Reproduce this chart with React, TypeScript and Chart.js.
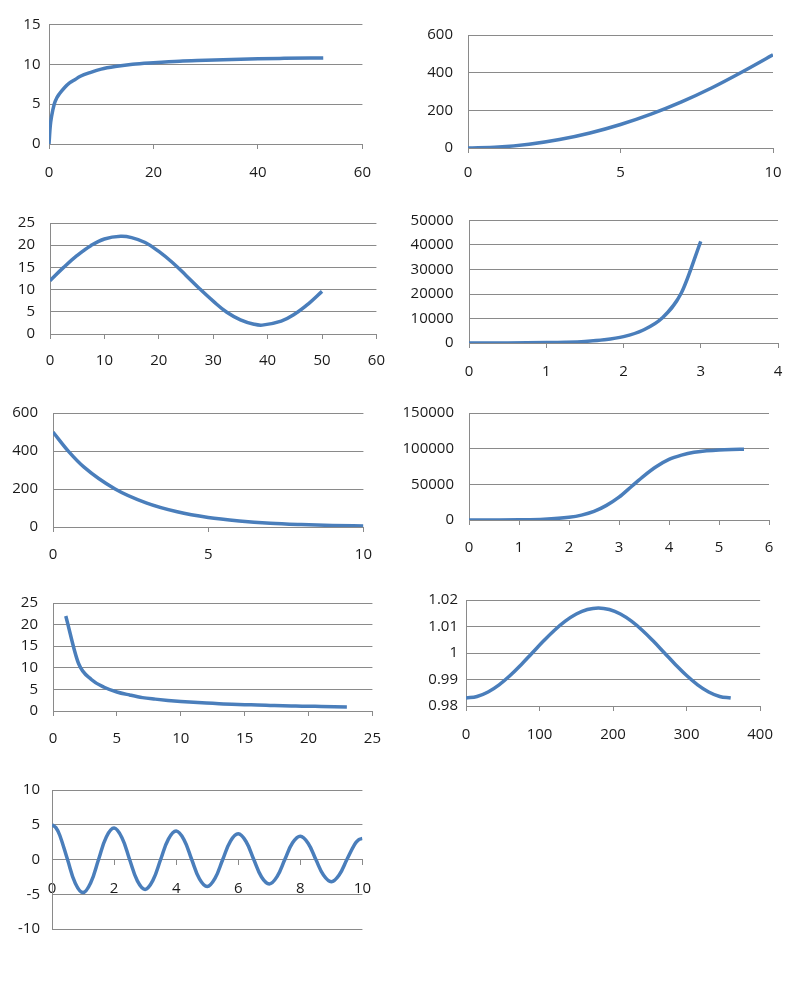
import React, { useEffect, useRef } from "react";
import { Chart, registerables } from "chart.js";

Chart.register(...registerables);

const FONT = "'Open Sans', 'Noto Sans', sans-serif";
const LINE_COLOR = "#4a7ebb";
const GRID_COLOR = "#8a8a8a";
const TEXT_COLOR = "#1a1a1a";

// 1: saturating curve
const c1X = [0, 0.25, 0.5, 1, 1.5, 2, 3, 4, 5, 6, 8, 10, 13, 16, 20, 25, 30, 35, 40, 45, 52.5];
const c1Y = [0, 2.3, 3.5, 5.0, 5.8, 6.3, 7.1, 7.7, 8.1, 8.5, 9.0, 9.4, 9.75, 10.0, 10.2, 10.4, 10.5, 10.6, 10.7, 10.75, 10.8];
const c1XTicks = ["0", "20", "40", "60"];
const c1YTicks = ["0", "5", "10", "15"];

// 2: parabola
const c2X = [0, 1, 2, 3, 4, 5, 6, 7, 8, 9, 10];
const c2Y = [0, 5, 20, 45, 80, 125, 180, 245, 320, 405, 495];
const c2XTicks = ["0", "5", "10"];
const c2YTicks = ["0", "200", "400", "600"];

// 3: sine wave
const c3X = [0, 2.5, 5, 7.5, 10, 13, 15, 17.5, 20, 22.5, 25, 27.5, 30, 32.5, 35, 37.5, 39, 42.5, 45, 47.5, 50];
const c3Y = [12, 15, 17.7, 19.9, 21.4, 22, 21.7, 20.6, 18.6, 16.1, 13.2, 10.2, 7.4, 4.9, 3.2, 2.2, 2, 2.9, 4.5, 6.8, 9.6];
const c3XTicks = ["0", "10", "20", "30", "40", "50", "60"];
const c3YTicks = ["0", "5", "10", "15", "20", "25"];

// 4: exponential growth
const c4X = [0, 0.25, 0.5, 0.75, 1, 1.25, 1.5, 1.75, 2, 2.25, 2.5, 2.75, 3];
const c4Y = [10, 20, 40, 80, 160, 320, 640, 1300, 2600, 5200, 10200, 20500, 41500];
const c4XTicks = ["0", "1", "2", "3", "4"];
const c4YTicks = ["0", "10000", "20000", "30000", "40000", "50000"];

// 5: exponential decay
const c5X = [0, 0.5, 1, 2, 3, 4, 5, 6, 7, 8, 9, 10];
const c5Y = [500, 398, 315, 200, 127, 80, 50, 32, 20, 13, 8, 5];
const c5XTicks = ["0", "5", "10"];
const c5YTicks = ["0", "200", "400", "600"];

// 6: logistic
const c6X = [0, 0.5, 1, 1.5, 2, 2.25, 2.5, 2.75, 3, 3.25, 3.5, 3.75, 4, 4.25, 4.5, 4.75, 5, 5.25, 5.5];
const c6Y = [30, 100, 330, 1100, 3800, 6800, 12000, 20500, 32000, 47000, 62000, 75000, 85000, 91000, 95000, 97000, 98300, 99000, 99300];
const c6XTicks = ["0", "1", "2", "3", "4", "5", "6"];
const c6YTicks = ["0", "50000", "100000", "150000"];

// 7: reciprocal
const c7X = [1, 2, 3, 4, 5, 6, 7, 8, 9, 10, 11, 12, 13, 14, 15, 16, 17, 18, 19, 20, 21, 22, 23];
const c7Y = [22, 11, 7.3, 5.5, 4.4, 3.7, 3.1, 2.75, 2.45, 2.2, 2.0, 1.85, 1.7, 1.55, 1.45, 1.4, 1.3, 1.2, 1.15, 1.1, 1.05, 1.0, 0.95];
const c7XTicks = ["0", "5", "10", "15", "20", "25"];
const c7YTicks = ["0", "5", "10", "15", "20", "25"];

// 8: one cosine period
const c8X = [0, 15, 30, 45, 60, 75, 90, 105, 120, 135, 150, 165, 180, 195, 210, 225, 240, 255, 270, 285, 300, 315, 330, 345, 360];
const c8Y = [
  0.983, 0.9836, 0.9853, 0.988, 0.9915, 0.9956, 1.0, 1.0044, 1.0085, 1.012, 1.0147, 1.0164, 1.017,
  1.0164, 1.0147, 1.012, 1.0085, 1.0044, 1.0, 0.9956, 0.9915, 0.988, 0.9853, 0.9836, 0.983,
];
const c8XTicks = ["0", "100", "200", "300", "400"];
const c8YTicks = ["0.98", "0.99", "1", "1.01", "1.02"];

// 9: damped oscillation
const c9X = [
  0, 0.125, 0.25, 0.5, 0.75, 1, 1.25, 1.5, 1.75, 2, 2.25, 2.5, 2.75, 3, 3.25, 3.5, 3.75, 4, 4.25, 4.5, 4.75, 5,
  5.25, 5.5, 5.75, 6, 6.25, 6.5, 6.75, 7, 7.25, 7.5, 7.75, 8, 8.25, 8.5, 8.75, 9, 9.25, 9.5, 9.75, 9.875, 10,
];
const c9Y = [
  5, 4.59, 3.49, 0, -3.41, -4.76, -3.32, 0, 3.24, 4.52, 3.16, 0, -3.08, -4.3, -3.01, 0, 2.93, 4.09, 2.86, 0, -2.79, -3.89,
  -2.72, 0, 2.65, 3.7, 2.59, 0, -2.52, -3.52, -2.46, 0, 2.4, 3.35, 2.34, 0, -2.28, -3.19, -2.23, 0, 2.17, 2.82, 3.03,
];
const c9XTicks = ["0", "2", "4", "6", "8", "10"];
const c9YTicks = ["-10", "-5", "0", "5", "10"];

interface PanelProps {
  xs: number[];
  ys: number[];
  xTicks: string[];
  yTicks: string[];
  xRange: [number, number, number];
  yRange: [number, number, number];
  plot: [number, number, number, number]; // left, top, right, bottom on the page
  canvasLeft: number;
  yPad: number;
  xPad: number;
  smooth?: boolean; // plain bezier instead of monotone
  zeroAxis?: boolean;
}

const PAD_TOP = 14;
const PAD_RIGHT = 20;
const X_H = 45;
const PAD_BOTTOM_ZERO = 14;

function Panel({ xs, ys, xTicks, yTicks, xRange, yRange, plot, canvasLeft, yPad, xPad, smooth, zeroAxis }: PanelProps) {
  const canvasRef = useRef<HTMLCanvasElement>(null);
  const [left, top, right, bottom] = plot;
  const yW = left - canvasLeft;
  const xH = zeroAxis ? 0 : X_H;
  const width = right - canvasLeft + PAD_RIGHT;
  const height = bottom - top + PAD_TOP + (zeroAxis ? PAD_BOTTOM_ZERO : X_H);

  useEffect(() => {
    if (!canvasRef.current) return;
    const font = { family: FONT, size: 15 };
    const chart = new Chart(canvasRef.current, {
      type: "scatter",
      data: {
        datasets: [
          {
            data: xs.map((x, i) => ({ x, y: ys[i] })),
            showLine: true,
            borderColor: LINE_COLOR,
            borderWidth: 3.5,
            pointRadius: 0,
            cubicInterpolationMode: smooth ? "default" : "monotone",
            tension: smooth ? 0.4 : 0,
            fill: false,
          },
        ],
      },
      options: {
        animation: false,
        responsive: true,
        maintainAspectRatio: false,
        layout: {
          padding: { left: 0, top: PAD_TOP, right: PAD_RIGHT, bottom: zeroAxis ? PAD_BOTTOM_ZERO : 0 },
        },
        plugins: { legend: { display: false }, tooltip: { enabled: false } },
        scales: {
          x: {
            type: "linear",
            position: zeroAxis ? { y: 0 } : "bottom",
            min: xRange[0],
            max: xRange[1],
            afterFit: (s: any) => {
              s.height = xH;
            },
            border: { display: true, color: GRID_COLOR, width: 1 },
            grid: { drawOnChartArea: false, drawTicks: true, tickLength: 5, color: GRID_COLOR },
            ticks: {
              stepSize: xRange[2],
              autoSkip: false,
              maxRotation: 0,
              padding: xPad,
              color: TEXT_COLOR,
              font,
              callback: (_v: any, i: number) => xTicks[i] ?? "",
            },
          },
          y: {
            type: "linear",
            min: yRange[0],
            max: yRange[1],
            afterFit: (s: any) => {
              s.width = yW;
            },
            border: { display: true, color: GRID_COLOR, width: 1 },
            grid: { drawTicks: false, color: GRID_COLOR },
            ticks: {
              stepSize: yRange[2],
              autoSkip: false,
              padding: yPad,
              color: TEXT_COLOR,
              font,
              callback: (_v: any, i: number) => yTicks[i] ?? "",
            },
          },
        },
      } as any,
    });
    return () => chart.destroy();
  }, []);

  return (
    <div
      style={{
        position: "absolute",
        left: canvasLeft,
        top: top - PAD_TOP,
        width,
        height,
      }}
    >
      <canvas ref={canvasRef} />
    </div>
  );
}

export default function App() {
  return (
    <div
      style={{
        position: "absolute",
        left: 0,
        top: 0,
        width: 800,
        height: 996,
        background: "#ffffff",
        overflow: "hidden",
      }}
    >
      <Panel xs={c1X} ys={c1Y} xTicks={c1XTicks} yTicks={c1YTicks} xRange={[0, 60, 20]} yRange={[0, 15, 5]}
        plot={[49, 21, 366, 144]} canvasLeft={0} yPad={8.5} xPad={15} />
      <Panel xs={c2X} ys={c2Y} xTicks={c2XTicks} yTicks={c2YTicks} xRange={[0, 10, 5]} yRange={[0, 600, 200]}
        plot={[468, 25, 773, 148]} canvasLeft={400} yPad={15} xPad={11} />
      <Panel xs={c3X} ys={c3Y} xTicks={c3XTicks} yTicks={c3YTicks} xRange={[0, 60, 10]} yRange={[0, 25, 5]}
        plot={[50, 213, 378, 334]} canvasLeft={0} yPad={15} xPad={13} smooth />
      <Panel xs={c4X} ys={c4Y} xTicks={c4XTicks} yTicks={c4YTicks} xRange={[0, 4, 1]} yRange={[0, 50000, 10000]}
        plot={[469, 210, 778, 343]} canvasLeft={400} yPad={15.5} xPad={15} />
      <Panel xs={c5X} ys={c5Y} xTicks={c5XTicks} yTicks={c5YTicks} xRange={[0, 10, 5]} yRange={[0, 600, 200]}
        plot={[53, 403, 366, 527]} canvasLeft={0} yPad={15} xPad={14} />
      <Panel xs={c6X} ys={c6Y} xTicks={c6XTicks} yTicks={c6YTicks} xRange={[0, 6, 1]} yRange={[0, 150000, 50000]}
        plot={[469, 403, 769, 520]} canvasLeft={400} yPad={15} xPad={14} />
      <Panel xs={c7X} ys={c7Y} xTicks={c7XTicks} yTicks={c7YTicks} xRange={[0, 25, 5]} yRange={[0, 25, 5]}
        plot={[53, 593, 375, 711]} canvasLeft={0} yPad={15} xPad={14} />
      <Panel xs={c8X} ys={c8Y} xTicks={c8XTicks} yTicks={c8YTicks} xRange={[0, 400, 100]} yRange={[0.98, 1.02, 0.01]}
        plot={[466, 597, 768, 706]} canvasLeft={400} yPad={8} xPad={15} smooth />
      <Panel xs={c9X} ys={c9Y} xTicks={c9XTicks} yTicks={c9YTicks} xRange={[0, 10, 2]} yRange={[-10, 10, 5]}
        plot={[52, 783, 366, 936]} canvasLeft={0} yPad={12} xPad={15} smooth zeroAxis />
    </div>
  );
}
